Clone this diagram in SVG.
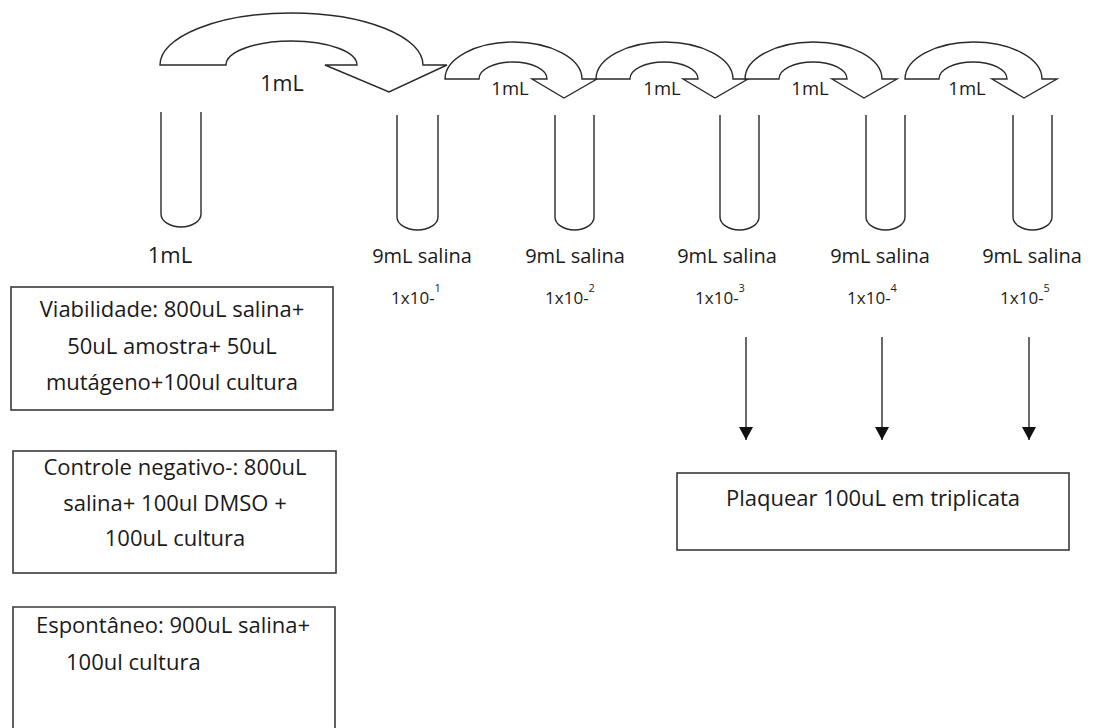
<svg xmlns="http://www.w3.org/2000/svg" width="1096" height="728" viewBox="0 0 1096 728">
<style>
.ln{fill:none;stroke:#2a2a2a;stroke-width:1.4}
.ar{fill:#fff;stroke:#2a2a2a;stroke-width:1.4;stroke-linejoin:miter}
.box{fill:#fff;stroke:#3a3a3a;stroke-width:1.6}
text{font-family:"Open Sans","Noto Sans",sans-serif;fill:#1a1a1a}
.lb{font-size:20px;text-anchor:middle}
.sm{font-size:18.5px;text-anchor:middle}
.dl{font-size:17px;text-anchor:middle}
.sup{font-size:11px}
.bx{font-size:22px;text-anchor:middle}
</style>
<defs>
<path id="small" d="M0,79 A68.5,37 0 0 1 137,79 L152,79 L119,98 L87,79 L102,79 A34,17 0 0 0 34,79 Z"/>
<marker id="ah" viewBox="0 0 13 14" refX="13" refY="7" markerWidth="13" markerHeight="14" markerUnits="userSpaceOnUse" orient="auto"><path d="M0,0 L13,7 L0,14 Z" fill="#111"/></marker>
</defs>

<g id="transfer-arrows">
<path class="ar" d="M160,65 A131.5,52 0 0 1 423,65 L447,65 L389,92 L325,65 L357,65 A65.5,24 0 0 0 226,65 Z"/>
<use href="#small" class="ar" x="445"/>
<use href="#small" class="ar" x="596"/>
<use href="#small" class="ar" x="745"/>
<use href="#small" class="ar" x="905"/>
<text x="282" y="91" font-size="21.5" text-anchor="middle">1mL</text>
<text x="510" y="95" class="sm">1mL</text>
<text x="662" y="95" class="sm">1mL</text>
<text x="810" y="95" class="sm">1mL</text>
<text x="967" y="95" class="sm">1mL</text>
</g>

<g id="tube-1">
<path class="ln" d="M161,112 V214 A20,13 0 0 0 201,214 V112"/>
<text x="170" y="263" font-size="22" text-anchor="middle">1mL</text>
</g>
<g id="tube-2">
<path class="ln" d="M397,115 V217 A20.5,13 0 0 0 438,217 V115"/>
<text x="422" y="263" class="lb">9mL salina</text>
<text x="416" y="304" class="dl">1x10-<tspan class="sup" dy="-12">1</tspan></text>
</g>
<g id="tube-3">
<path class="ln" d="M555,115 V217 A19.5,13 0 0 0 594,217 V115"/>
<text x="575" y="263" class="lb">9mL salina</text>
<text x="570" y="304" class="dl">1x10-<tspan class="sup" dy="-12">2</tspan></text>
</g>
<g id="tube-4">
<path class="ln" d="M720,115 V217 A19.5,13 0 0 0 759,217 V115"/>
<text x="727" y="263" class="lb">9mL salina</text>
<text x="720" y="304" class="dl">1x10-<tspan class="sup" dy="-12">3</tspan></text>
</g>
<g id="tube-5">
<path class="ln" d="M866,115 V217 A19.5,13 0 0 0 905,217 V115"/>
<text x="880" y="263" class="lb">9mL salina</text>
<text x="872" y="304" class="dl">1x10-<tspan class="sup" dy="-12">4</tspan></text>
</g>
<g id="tube-6">
<path class="ln" d="M1013,115 V217 A19.5,13 0 0 0 1052,217 V115"/>
<text x="1032" y="263" class="lb">9mL salina</text>
<text x="1025" y="304" class="dl">1x10-<tspan class="sup" dy="-12">5</tspan></text>
</g>

<g id="connectors">
<line class="ln" x1="746" y1="337" x2="746" y2="440" marker-end="url(#ah)"/>
<line class="ln" x1="882" y1="337" x2="882" y2="440" marker-end="url(#ah)"/>
<line class="ln" x1="1029" y1="337" x2="1029" y2="440" marker-end="url(#ah)"/>
</g>

<g id="plaquear">
<rect class="box" x="677" y="473" width="392" height="77"/>
<text x="873" y="506" class="bx">Plaquear 100uL em triplicata</text>
</g>

<g id="viabilidade">
<rect class="box" x="11" y="287" width="322" height="123"/>
<text x="172" y="317" class="bx">Viabilidade: 800uL salina+</text>
<text x="172" y="354" class="bx">50uL amostra+ 50uL</text>
<text x="172" y="390" class="bx">mutágeno+100ul cultura</text>
</g>

<g id="controle-negativo">
<rect class="box" x="13" y="451" width="323" height="122"/>
<text x="175" y="475" class="bx">Controle negativo-: 800uL</text>
<text x="175" y="511" class="bx">salina+ 100ul DMSO +</text>
<text x="175" y="546" class="bx">100uL cultura</text>
</g>

<g id="espontaneo">
<path class="box" d="M13,735 V607 H335 V735"/>
<text x="173" y="633" class="bx">Espontâneo: 900uL salina+</text>
<text x="66" y="670" font-size="22">100ul  cultura</text>
</g>
</svg>
